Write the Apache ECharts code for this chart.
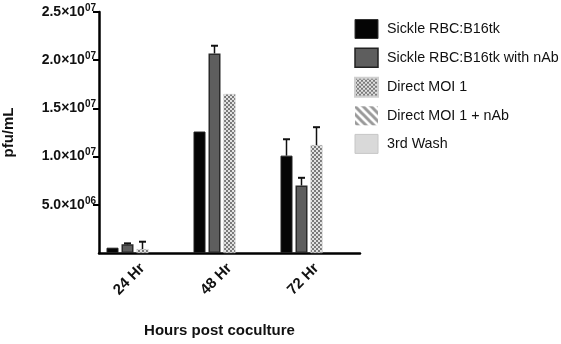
<!DOCTYPE html>
<html>
<head>
<meta charset="utf-8">
<script src="https://cdn.jsdelivr.net/npm/echarts@6/dist/echarts.min.js"></script>
<style>
  html, body { margin: 0; padding: 0; background: #fff; }
  #chart { width: 561px; height: 344px; }
</style>
</head>
<body>
<div id="chart"></div>
<script>
const categories = ['24 Hr', '48 Hr', '72 Hr'];
const seriesNames = ['Sickle RBC:B16tk', 'Sickle RBC:B16tk with nAb', 'Direct MOI 1', 'Direct MOI 1 + nAb', '3rd Wash'];

// bar heights (pfu/mL)
const sickle = [5.5e5, 1.26e7, 1.01e7];
const sickleNab = [9.0e5, 2.07e7, 7.0e6];
const directMoi = [4.0e5, 1.65e7, 1.12e7];
const directMoiNab = [0, 0, 0];
const thirdWash = [0, 0, 0];

// upper error (SEM) added on top of each bar
const sickleErr = [0, 0, 1.7e6];
const sickleNabErr = [1.0e5, 8.0e5, 8.0e5];
const directMoiErr = [7.7e5, 0, 1.85e6];

const yTicks = [5e6, 1e7, 1.5e7, 2e7, 2.5e7];
const yTickBase = ['5.0', '1.0', '1.5', '2.0', '2.5'];
const yTickExp = ['06', '07', '07', '07', '07'];

function makePattern(draw, w, h) {
  const c = document.createElement('canvas');
  c.width = w;
  c.height = h;
  draw(c.getContext('2d'));
  return { image: c, repeat: 'repeat' };
}

// fine checker dots
const checker = makePattern(ctx => {
  ctx.fillStyle = '#e2e2e2';
  ctx.fillRect(0, 0, 4, 4);
  ctx.fillStyle = '#7a7a7a';
  ctx.fillRect(0, 0, 2, 2);
  ctx.fillRect(2, 2, 2, 2);
}, 4, 4);

// diagonal stripes
const stripes = makePattern(ctx => {
  ctx.fillStyle = '#ffffff';
  ctx.fillRect(0, 0, 8, 8);
  ctx.strokeStyle = '#9a9a9a';
  ctx.lineWidth = 3;
  ctx.beginPath();
  ctx.moveTo(-2, -2); ctx.lineTo(10, 10);
  ctx.moveTo(-6, 2); ctx.lineTo(2, 10);
  ctx.moveTo(6, -2); ctx.lineTo(14, 6);
  ctx.stroke();
}, 8, 8);

const chart = echarts.init(document.getElementById('chart'));

const FONT = 'Liberation Sans';
const BAR_W = 12;
const STEP = 15; // bar width + gap

const errData = [];
[[sickle, sickleErr], [sickleNab, sickleNabErr], [directMoi, directMoiErr]].forEach((pair, s) => {
  pair[0].forEach((v, i) => {
    if (pair[1][i] > 0) errData.push([i, v + pair[1][i], v, s]);
  });
});

function barSeries(name, data, style) {
  return {
    name: name,
    type: 'bar',
    data: data,
    barWidth: BAR_W,
    barGap: '25%',
    itemStyle: style,
    emphasis: { disabled: true }
  };
}

const option = {
  backgroundColor: '#fff',
  animation: false,
  textStyle: { fontFamily: FONT },
  grid: { left: 94, right: 201, top: 12, bottom: 91, containLabel: false },
  legend: {
    orient: 'vertical',
    left: 354,
    top: 19,
    padding: 0,
    itemWidth: 23,
    itemHeight: 19,
    itemGap: 8.6,
    icon: 'rect',
    data: [
      { name: seriesNames[0], itemStyle: { borderColor: '#333', borderWidth: 1 } },
      { name: seriesNames[1], itemStyle: { borderColor: '#222', borderWidth: 1.5 } },
      { name: seriesNames[2] },
      { name: seriesNames[3] },
      { name: seriesNames[4], itemStyle: { borderColor: '#c6c6c6', borderWidth: 1 } }
    ],
    textStyle: { fontFamily: FONT, fontSize: 14.3, color: '#111', padding: [0, 0, 0, 4] },
    selectedMode: false
  },
  xAxis: {
    type: 'category',
    data: categories,
    name: 'Hours post coculture',
    nameLocation: 'middle',
    nameGap: 70,
    nameTextStyle: { fontFamily: FONT, fontSize: 15, fontWeight: 'bold', color: '#111', padding: [0, 20, 0, 0] },
    axisLine: { lineStyle: { color: '#000', width: 2.5 } },
    axisTick: { alignWithLabel: true, length: 7, lineStyle: { color: '#000', width: 2 } },
    axisLabel: { rotate: 45, margin: 13, fontFamily: FONT, fontSize: 15, fontWeight: 'bold', color: '#111' }
  },
  yAxis: {
    type: 'value',
    min: 0,
    max: 2.5e7,
    interval: 5e6,
    name: 'pfu/mL',
    nameLocation: 'middle',
    nameGap: 75,
    nameTextStyle: { fontFamily: FONT, fontSize: 15, fontWeight: 'bold', color: '#111', padding: [0, 0, 8, 0] },
    axisLine: { show: true, lineStyle: { color: '#000', width: 2.5 } },
    axisTick: { show: true, customValues: yTicks, length: 6, lineStyle: { color: '#000', width: 2 } },
    splitLine: { show: false },
    axisLabel: {
      margin: 3,
      customValues: yTicks,
      formatter: v => {
        const k = yTicks.indexOf(v);
        if (k < 0) return '';
        return '{a|' + yTickBase[k] + '×10}{b|' + yTickExp[k] + '}';
      },
      rich: {
        a: { fontFamily: FONT, fontSize: 14, fontWeight: 'bold', color: '#111' },
        b: { fontFamily: FONT, fontSize: 10, fontWeight: 'bold', color: '#111', padding: [0, 0, 8, 0] }
      }
    }
  },
  series: [
    barSeries(seriesNames[0], sickle, { color: '#050505', borderColor: '#222', borderWidth: 1 }),
    barSeries(seriesNames[1], sickleNab, { color: '#5e5e5e', borderColor: '#2a2a2a', borderWidth: 1.5 }),
    barSeries(seriesNames[2], directMoi, { color: checker, borderColor: '#cfcfcf', borderWidth: 0.5 }),
    barSeries(seriesNames[3], directMoiNab, { color: stripes }),
    barSeries(seriesNames[4], thirdWash, { color: '#d9d9d9', borderWidth: 0 }),
    {
      type: 'custom',
      data: errData,
      z: 3,
      silent: true,
      renderItem: (params, api) => {
        const cat = api.value(0);
        const off = (api.value(3) - 2) * STEP;
        const top = api.coord([cat, api.value(1)]);
        const base = api.coord([cat, api.value(2)]);
        const x = top[0] + off;
        const style = { stroke: '#111', lineWidth: 1.5 };
        return {
          type: 'group',
          children: [
            { type: 'line', shape: { x1: x, y1: base[1], x2: x, y2: top[1] }, style: style },
            { type: 'line', shape: { x1: x - 3.5, y1: top[1], x2: x + 3.5, y2: top[1] }, style: { stroke: '#111', lineWidth: 2 } }
          ]
        };
      }
    }
  ]
};

chart.setOption(option);
</script>
</body>
</html>
